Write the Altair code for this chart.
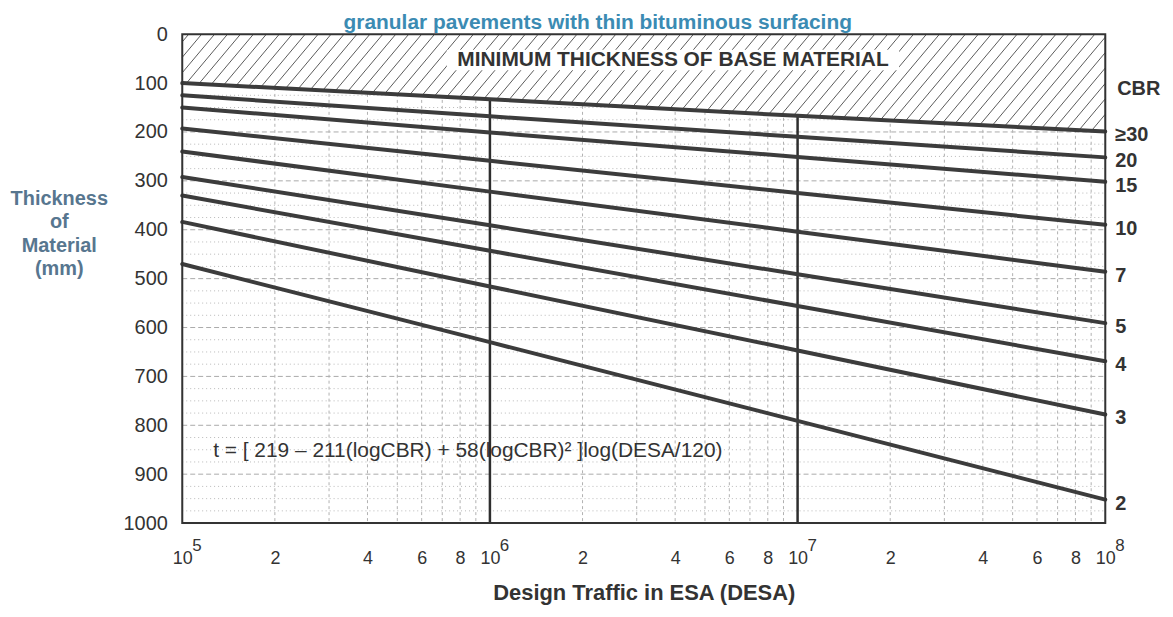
import numpy as np
import pandas as pd
import altair as alt

# ---------------- data ----------------
desa = [1e5, 1e6, 1e7, 1e8]
cbr_labels = ["≥30", "20", "15", "10", "7", "5", "4", "3", "2"]
thk_cbr30 = [100, 133, 167, 199]
thk_cbr20 = [125, 168, 210, 252]
thk_cbr15 = [150, 201, 251, 302]
thk_cbr10 = [193, 259, 325, 390]
thk_cbr7 = [240, 322, 404, 486]
thk_cbr5 = [292, 391, 491, 591]
thk_cbr4 = [330, 443, 556, 669]
thk_cbr3 = [384, 516, 647, 778]
thk_cbr2 = [470, 630, 791, 952]
series = [thk_cbr30, thk_cbr20, thk_cbr15, thk_cbr10, thk_cbr7,
          thk_cbr5, thk_cbr4, thk_cbr3, thk_cbr2]

x_tick_values = [1e5, 2e5, 4e5, 6e5, 8e5, 1e6, 2e6, 4e6, 6e6, 8e6,
                 1e7, 2e7, 4e7, 6e7, 8e7, 1e8]
x_tick_labels = ["10", "2", "4", "6", "8", "10", "2", "4", "6", "8",
                 "10", "2", "4", "6", "8", "10"]
decade_values = [1e5, 1e6, 1e7, 1e8]
decade_exps = ["5", "6", "7", "8"]
y_tick_values = list(range(0, 1001, 100))
bold_verticals = [1e6, 1e7]

title_text = "granular pavements with thin bituminous surfacing"
y_title = ["Thickness", "of", "Material", "(mm)"]
x_title = "Design Traffic in ESA (DESA)"
hatch_text = "MINIMUM THICKNESS OF BASE MATERIAL"
formula_text = "t = [ 219 \u2013 211(logCBR) + 58(logCBR)\u00b2 ]log(DESA/120)"
cbr_header = "CBR"

# ---------------- layout ----------------
W, H = 927, 491
FONT = "Liberation Sans"
INK = "#333333"

# ---------------- tables ----------------
rows = []
for lab, vals in zip(cbr_labels, series):
    for d, t in zip(desa, vals):
        rows.append({"cbr": lab, "desa": d, "t": t})
lines_df = pd.DataFrame(rows)
ends_df = lines_df[lines_df["desa"] == desa[-1]].copy()
top_df = pd.DataFrame({"desa": desa, "t": thk_cbr30})

logd = np.log10(desa)


def top_mm(u):
    return np.interp(u, logd, thk_cbr30)


# grid (drawn full, upper region is masked by white area afterwards)
hgrid_minor = pd.DataFrame({"y": [v for v in range(25, 1000, 25) if v % 100]})
hgrid_major = pd.DataFrame({"y": [v for v in range(100, 1000, 100)]})
vgrid = pd.DataFrame({"x": [k * 10.0 ** e for e in (5, 6, 7) for k in range(2, 10)]})
bold_df = pd.DataFrame({"x": bold_verticals,
                        "t": [top_mm(np.log10(v)) for v in bold_verticals]})

# hatch segments above the CBR>=30 line (decoration derived from that line)
theta = np.deg2rad(50)
cot = 1 / np.tan(theta)
spacing = 13.0
px_grid = np.linspace(0, W, 2000)
B = top_mm(5 + 3 * px_grid / W) * H / 1000.0
g = px_grid + B * cot
segs = []
c = spacing / 2
while c < W + B[-1] * cot:
    if c <= W:
        x0, y0 = c, 0.0
    else:
        x0, y0 = W, (c - W) / cot
    if c < g[0]:
        x1, y1 = 0.0, c / cot
    else:
        x1 = float(np.interp(c, g, px_grid))
        y1 = float(np.interp(x1, px_grid, B))
    if y1 > y0:
        segs.append({"x": 10 ** (5 + 3 * x0 / W), "y": y0 * 1000 / H,
                     "x2": 10 ** (5 + 3 * x1 / W), "y2": y1 * 1000 / H})
    c += spacing
hatch_df = pd.DataFrame(segs)

# ---------------- scales ----------------
xs = alt.Scale(type="log", domain=[desa[0], desa[-1]], nice=False)
ys = alt.Scale(domain=[0, 1000], reverse=True, nice=False, zero=False)

label_expr = " : ".join(
    f"datum.value == {v} ? '{l}'" for v, l in zip(x_tick_values, x_tick_labels)
) + " : ''"

x_axis = alt.Axis(values=x_tick_values, labelExpr=label_expr, grid=False,
                  ticks=False, tickSize=0, domain=False, labelFont=FONT,
                  labelFontSize=18, labelColor=INK, labelPadding=36,
                  labelBaseline="middle", labelOverlap=False, labelFlush=False,
                  labelBound=False, title=x_title, titleFont=FONT,
                  titleFontSize=22, titleFontWeight="bold", titleColor=INK,
                  titleY=60, titleBaseline="top")
y_axis = alt.Axis(values=y_tick_values, format="d", grid=False, ticks=False,
                  tickSize=0, domain=False, labelFont=FONT, labelFontSize=20,
                  labelColor=INK, labelPadding=15, labelOverlap=False,
                  labelFlush=False, title=y_title, titleAngle=0,
                  titleFont=FONT, titleFontSize=20, titleFontWeight="bold",
                  titleColor="#57768f", titleX=-124, titleY=155,
                  titleAlign="center", titleBaseline="top",
                  titleLineHeight=23.5)

# ---------------- layers ----------------
grid_minor = alt.Chart(hgrid_minor).mark_rule(
    color="#b8b8b8", strokeWidth=1, strokeDash=[1, 3]
).encode(y=alt.Y("y:Q", scale=ys, axis=y_axis), x=alt.datum(desa[0], scale=xs),
         x2=alt.datum(desa[-1]))

grid_major = alt.Chart(hgrid_major).mark_rule(
    color="#aaaaaa", strokeWidth=1, strokeDash=[5, 3]
).encode(y=alt.Y("y:Q", scale=ys), x=alt.datum(desa[0], scale=xs),
         x2=alt.datum(desa[-1]))

grid_v = alt.Chart(vgrid).mark_rule(
    color="#b0b0b0", strokeWidth=1, strokeDash=[3, 3]
).encode(x=alt.X("x:Q", scale=xs, axis=x_axis), y=alt.datum(0, scale=ys),
         y2=alt.datum(1000))

mask = alt.Chart(top_df).mark_area(color="white", opacity=1).encode(
    x=alt.X("desa:Q", scale=xs), y=alt.Y("t:Q", scale=ys), y2=alt.datum(0)
)

hatch = alt.Chart(hatch_df).mark_rule(color="#5a5a5a", strokeWidth=1).encode(
    x=alt.X("x:Q", scale=xs), y=alt.Y("y:Q", scale=ys),
    x2="x2:Q", y2="y2:Q"
)

text_box = alt.Chart(pd.DataFrame({"a": [0]})).mark_rect(color="white").encode(
    x=alt.datum(10 ** 5.86, scale=xs), x2=alt.datum(10 ** 7.33),
    y=alt.datum(32, scale=ys), y2=alt.datum(74)
)

hatch_label = alt.Chart(pd.DataFrame({"s": [hatch_text]})).mark_text(
    font=FONT, fontSize=21, fontWeight="bold", color=INK, align="center",
    baseline="middle"
).encode(x=alt.datum(10 ** 6.595, scale=xs), y=alt.datum(53, scale=ys),
         text="s:N")

bold_v = alt.Chart(bold_df).mark_rule(color="#2e2e2e", strokeWidth=2.5).encode(
    x=alt.X("x:Q", scale=xs), y=alt.Y("t:Q", scale=ys), y2=alt.datum(1000)
)

cbr_lines = alt.Chart(lines_df).mark_line(
    color="#3c3c3c", strokeWidth=4, strokeCap="round"
).encode(x=alt.X("desa:Q", scale=xs), y=alt.Y("t:Q", scale=ys),
         detail="cbr:N")

frame = alt.Chart(pd.DataFrame({"a": [0]})).mark_rect(
    filled=False, stroke="#333333", strokeWidth=2
).encode(x=alt.datum(desa[0], scale=xs), x2=alt.datum(desa[-1]),
         y=alt.datum(0, scale=ys), y2=alt.datum(1000))

cbr_text = alt.Chart(ends_df).mark_text(
    font=FONT, fontSize=20, fontWeight="bold", color=INK, align="left",
    baseline="middle", dx=10, dy=4
).encode(x=alt.X("desa:Q", scale=xs), y=alt.Y("t:Q", scale=ys), text="cbr:N")

cbr_head = alt.Chart(pd.DataFrame({"s": [cbr_header]})).mark_text(
    font=FONT, fontSize=20, fontWeight="bold", color=INK, align="left",
    baseline="middle", dx=12
).encode(x=alt.datum(desa[-1], scale=xs), y=alt.datum(112, scale=ys),
         text="s:N")

sup = alt.Chart(pd.DataFrame({"x": decade_values, "e": decade_exps})).mark_text(
    font=FONT, fontSize=17, color=INK, align="left", baseline="middle", dx=10
).encode(x=alt.X("x:Q", scale=xs), y=alt.value(H + 23), text="e:N")

formula = alt.Chart(pd.DataFrame({"s": [formula_text]})).mark_text(
    font=FONT, fontSize=21, color=INK, align="left", baseline="middle"
).encode(x=alt.datum(1.26e5, scale=xs), y=alt.datum(853, scale=ys), text="s:N")

title = alt.Chart(pd.DataFrame({"s": [title_text]})).mark_text(
    font=FONT, fontSize=21, fontWeight="bold", color="#3b8bb3", align="left",
    baseline="alphabetic"
).encode(x=alt.value(162), y=alt.value(-5), text="s:N")

chart = alt.layer(
    grid_minor, grid_major, grid_v, mask, hatch, text_box, hatch_label,
    bold_v, cbr_lines, frame, cbr_text, cbr_head, sup, formula, title
).properties(
    width=W, height=H,
    autosize=alt.AutoSizeParams(type="none"),
    padding={"left": 175, "top": 25, "right": 60, "bottom": 85},
).configure_view(stroke=None).configure(background="white")

chart.save("out.html", embed_options={"renderer": "svg", "actions": False})
